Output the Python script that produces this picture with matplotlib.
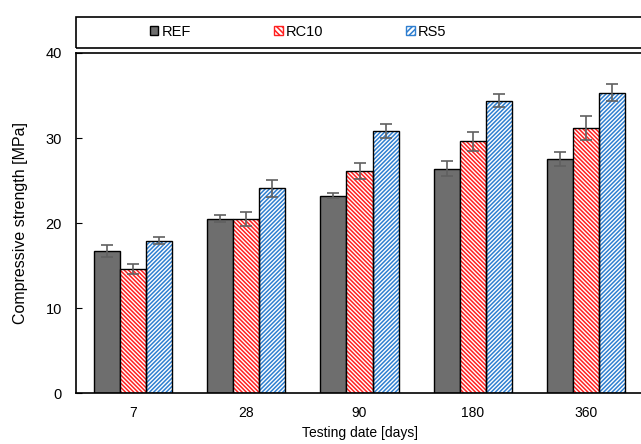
import numpy as np
import matplotlib
matplotlib.use('Agg')
import matplotlib.pyplot as plt
from matplotlib.patches import Rectangle, Patch

days = ['7', '28', '90', '180', '360']
ref = [16.7, 20.5, 23.2, 26.4, 27.5]
ref_err = [0.7, 0.4, 0.3, 0.9, 0.8]
rc10 = [14.6, 20.5, 26.1, 29.6, 31.2]
rc10_err = [0.6, 0.8, 0.9, 1.1, 1.4]
rs5 = [17.9, 24.1, 30.8, 34.4, 35.3]
rs5_err = [0.4, 1.0, 0.8, 0.8, 1.0]

plt.rcParams['font.family'] = ['Liberation Sans', 'DejaVu Sans']
plt.rcParams['hatch.linewidth'] = 1.1

red_hatch = '\\' * 8
blue_hatch = '/' * 8

fig = plt.figure(figsize=(6.41, 4.44), dpi=100)
ax = fig.add_axes([76/641, 51/444, 567/641, 340/444])

x = np.arange(len(days))
w = 0.23
err_kw = dict(ecolor='#606060', elinewidth=1.2, capsize=4, capthick=1.2)

ax.bar(x - w, ref, w, color='#6e6e6e', edgecolor='black', linewidth=1,
       yerr=ref_err, error_kw=err_kw, zorder=2)
ax.bar(x, rc10, w, color='white', edgecolor='#ff2020', hatch=red_hatch, linewidth=0, zorder=2)
ax.bar(x, rc10, w, fill=False, edgecolor='black', linewidth=1,
       yerr=rc10_err, error_kw=err_kw, zorder=3)
ax.bar(x + w, rs5, w, color='white', edgecolor='#2f7fd0', hatch=blue_hatch, linewidth=0, zorder=2)
ax.bar(x + w, rs5, w, fill=False, edgecolor='black', linewidth=1,
       yerr=rs5_err, error_kw=err_kw, zorder=3)

ax.set_xlim(-0.5, len(days) - 0.5)
ax.set_ylim(0, 40)
ax.set_yticks([0, 10, 20, 30, 40])
ax.set_xticks(x)
ax.set_xticklabels(days)
ax.tick_params(axis='x', length=0, pad=9, labelsize=10)
ax.tick_params(axis='y', length=4, direction='in', pad=10, labelsize=10.5)
for s in ax.spines.values():
    s.set_linewidth(1.2)
ax.set_xlabel('Testing date [days]', fontsize=10, labelpad=5)
ax.set_ylabel('Compressive strength [MPa]', fontsize=11.5)
ax.yaxis.set_label_coords(-0.085, 0.5)

# legend box across the top
fig.patches.append(Rectangle((76/641, 1 - 48/444), 0.95, 31/444, transform=fig.transFigure,
                             fill=False, edgecolor='black', linewidth=1.2))
handles = [Patch(facecolor='#6e6e6e', edgecolor='black'),
           Patch(facecolor='white', edgecolor='#ff2020', hatch='\\' * 6),
           Patch(facecolor='white', edgecolor='#2f7fd0', hatch='/' * 6)]
fig.legend(handles, ['REF', 'RC10', 'RS5'], loc='center', ncol=3,
           bbox_to_anchor=(298/641, 1 - 32/444), frameon=False, fontsize=10.5,
           handlelength=0.6, handleheight=0.6, handletextpad=0.2, columnspacing=5.7)

fig.savefig('out.png', dpi=100)
